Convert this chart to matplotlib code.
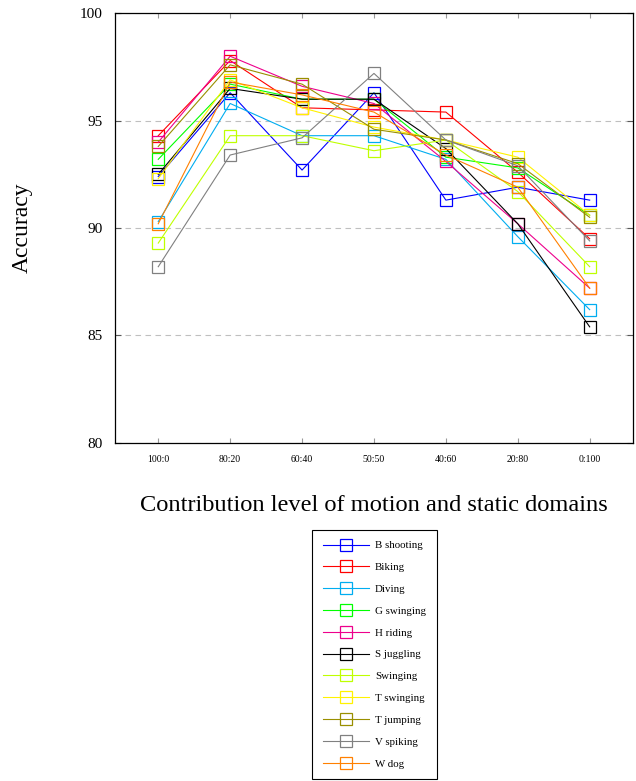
import matplotlib
matplotlib.use("Agg")
import matplotlib.pyplot as plt
import numpy as np

plt.rcParams['font.family'] = ['Liberation Serif', 'DejaVu Serif']

ratios = ["100:0", "80:20", "60:40", "50:50", "40:60", "20:80", "0:100"]

# accuracy per class
b_shooting = [92.4, 96.3, 92.7, 96.3, 91.3, 91.9, 91.3]
biking     = [94.3, 97.8, 95.6, 95.5, 95.4, 92.6, 89.5]
diving     = [90.3, 95.8, 94.3, 94.3, 93.2, 89.6, 86.2]
g_swinging = [93.2, 96.7, 96.0, 96.0, 93.3, 92.8, 90.6]
h_riding   = [94.0, 98.0, 96.6, 95.8, 93.1, 90.2, 87.2]
s_juggling = [92.5, 96.5, 96.0, 96.0, 93.7, 90.2, 85.4]
swinging   = [89.3, 94.3, 94.3, 93.6, 94.1, 91.7, 88.2]
t_swinging = [92.3, 96.9, 95.6, 94.7, 94.1, 93.3, 90.6]
t_jumping  = [93.8, 97.6, 96.7, 94.6, 94.1, 93.0, 90.5]
v_spiking  = [88.2, 93.4, 94.2, 97.2, 94.1, 92.9, 89.4]
w_dog      = [90.2, 96.8, 96.2, 95.4, 93.4, 91.9, 87.2]

series = [
    ("B shooting", b_shooting, (0, 0, 1)),
    ("Biking", biking, (1, 0, 0)),
    ("Diving", diving, (0, 0.68, 0.94)),
    ("G swinging", g_swinging, (0, 1, 0)),
    ("H riding", h_riding, (0.93, 0, 0.55)),
    ("S juggling", s_juggling, (0, 0, 0)),
    ("Swinging", swinging, (0.75, 1, 0)),
    ("T swinging", t_swinging, (1, 0.95, 0)),
    ("T jumping", t_jumping, (0.6, 0.56, 0)),
    ("V spiking", v_spiking, (0.5, 0.5, 0.5)),
    ("W dog", w_dog, (1, 0.5, 0)),
]

fig = plt.figure(figsize=(6.36, 7.81), dpi=100)
ax = fig.add_axes([0.181, 0.433, 0.814, 0.55])

x = np.arange(len(ratios))
for name, vals, col in series:
    ax.plot(x, vals, color=col, lw=0.8, marker='s', markersize=8,
            markerfacecolor='none', markeredgecolor=col, markeredgewidth=0.9,
            label=name)

ax.set_xlim(-0.6, len(ratios) - 0.4)
ax.set_ylim(80, 100)
ax.set_yticks([80, 85, 90, 95, 100])
ax.set_xticks(x)
ax.set_xticklabels(ratios, fontsize=7)
ax.tick_params(axis='y', labelsize=11, direction='in', right=True, length=4,
               color='0.35', pad=9)
ax.tick_params(axis='x', direction='in', top=True, length=3.5, color='0.6', pad=9)
ax.yaxis.grid(True, ls=(0, (5, 4)), color='0.75', lw=0.8)
ax.set_axisbelow(True)
for s in ax.spines.values():
    s.set_linewidth(0.9)

ax.set_ylabel("Accuracy", fontsize=17, labelpad=34)
ax.set_xlabel("Contribution level of motion and static domains", fontsize=17.6,
              labelpad=22)

leg = fig.legend(loc='upper center', bbox_to_anchor=(0.589, 0.3215), fontsize=7.8,
                 handlelength=4.2, labelspacing=1.13, fancybox=False,
                 edgecolor='black', framealpha=1, borderpad=1.0,
                 handletextpad=0.6, borderaxespad=0)
leg.get_frame().set_linewidth(0.8)

fig.savefig("out.png", dpi=100)
